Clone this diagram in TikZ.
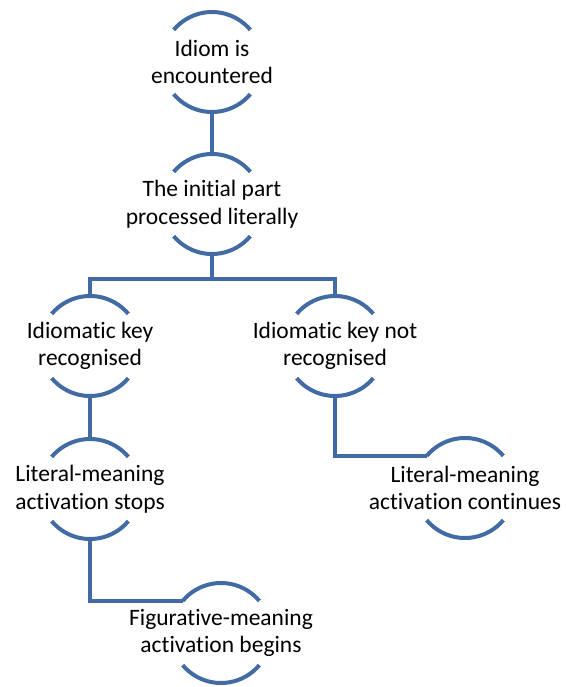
\documentclass[tikz,border=0pt]{standalone}
\usepackage{fontspec}
\setmainfont[Ligatures=NoCommon,RawFeature={-liga;-clig;-dlig}]{Carlito}
\definecolor{ringblue}{RGB}{65,107,162}
\begin{document}
\begin{tikzpicture}[x=1pt,y=-1pt,
  ring/.style={circle,minimum size=100pt,inner sep=0pt,outer sep=0pt},
  txt/.style={align=center,font=\fontsize{23.5}{27.5}\selectfont,text=black,inner sep=0pt},
  arcs/.style={draw=ringblue,line width=4pt},
  conn/.style={draw=ringblue,line width=4.2pt}]
\useasboundingbox (0,0) rectangle (565,687);
\newcommand{\ringarcs}[1]{%
  \draw[arcs] (#1.40) arc[start angle=40,end angle=140,radius=50pt];
  \draw[arcs] (#1.220) arc[start angle=220,end angle=320,radius=50pt];}
\node[ring] (n1) at (212,62) {};
\node[ring] (n2) at (212,204) {};
\node[ring] (n3) at (90,346) {};
\node[ring] (n4) at (335,346) {};
\node[ring] (n5) at (90,489) {};
\node[ring] (n6) at (465,488) {};
\node[ring] (n7) at (221,633) {};
\foreach \n in {n1,n2,n3,n4,n5,n6,n7}{\ringarcs{\n}}
\node[txt] (t1) at (n1) {Idiom is\\encountered};
\node[txt] (t2) at (n2) {The initial part\\processed literally};
\node[txt] (t3) at (n3) {Idiomatic key\\recognised};
\node[txt] (t4) at (n4) {Idiomatic key not\\recognised};
\node[txt] (t5) at (n5) {Literal-meaning\\activation stops};
\node[txt] (t6) at (n6) {Literal-meaning\\activation continues};
\node[txt] (t7) at (n7) {Figurative-meaning\\activation begins};
\draw[conn] (n1.south) -- (n2.north);
\draw[conn] (n2.south) -- ++(0,25) coordinate (b);
\draw[conn] (n3.north) |- (b) -| (n4.north);
\draw[conn] (n3.south) -- (n5.north);
\draw[conn] (n4.south) |- (n6.140);
\draw[conn] (n5.south) |- (n7.140);
\end{tikzpicture}
\end{document}
